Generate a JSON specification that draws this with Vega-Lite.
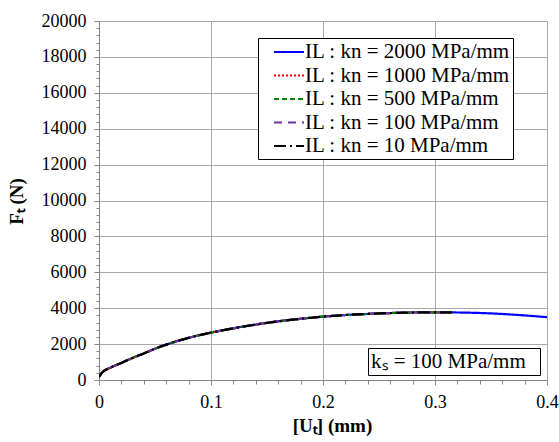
{
  "$schema": "https://vega.github.io/schema/vega-lite/v6.json",
  "width": 448,
  "height": 359,
  "autosize": "none",
  "padding": {"left": 99, "top": 21, "right": 12, "bottom": 62},
  "background": "white",
  "config": {
    "view": {"stroke": null},
    "axis": {
      "labelFont": "Liberation Serif",
      "labelFontSize": 18,
      "labelColor": "black",
      "titleFont": "Liberation Serif",
      "titleFontSize": 19,
      "titleFontWeight": "bold",
      "titleColor": "black",
      "domainColor": "#868686",
      "tickColor": "#868686",
      "gridColor": "#a8a8a8",
      "gridWidth": 1,
      "domainWidth": 1,
      "tickWidth": 1
    }
  },
  "data": {
    "values": [
      {"series": "IL : kn = 2000 MPa/mm", "x": 0, "y": 180},
      {"series": "IL : kn = 2000 MPa/mm", "x": 0.003, "y": 430},
      {"series": "IL : kn = 2000 MPa/mm", "x": 0.01, "y": 680},
      {"series": "IL : kn = 2000 MPa/mm", "x": 0.02, "y": 950},
      {"series": "IL : kn = 2000 MPa/mm", "x": 0.03, "y": 1230},
      {"series": "IL : kn = 2000 MPa/mm", "x": 0.04, "y": 1480},
      {"series": "IL : kn = 2000 MPa/mm", "x": 0.05, "y": 1740},
      {"series": "IL : kn = 2000 MPa/mm", "x": 0.06, "y": 1970},
      {"series": "IL : kn = 2000 MPa/mm", "x": 0.08, "y": 2350},
      {"series": "IL : kn = 2000 MPa/mm", "x": 0.1, "y": 2640},
      {"series": "IL : kn = 2000 MPa/mm", "x": 0.12, "y": 2880},
      {"series": "IL : kn = 2000 MPa/mm", "x": 0.14, "y": 3090},
      {"series": "IL : kn = 2000 MPa/mm", "x": 0.16, "y": 3270},
      {"series": "IL : kn = 2000 MPa/mm", "x": 0.18, "y": 3410},
      {"series": "IL : kn = 2000 MPa/mm", "x": 0.2, "y": 3530},
      {"series": "IL : kn = 2000 MPa/mm", "x": 0.22, "y": 3620},
      {"series": "IL : kn = 2000 MPa/mm", "x": 0.24, "y": 3680},
      {"series": "IL : kn = 2000 MPa/mm", "x": 0.26, "y": 3730},
      {"series": "IL : kn = 2000 MPa/mm", "x": 0.28, "y": 3760},
      {"series": "IL : kn = 2000 MPa/mm", "x": 0.3, "y": 3770},
      {"series": "IL : kn = 2000 MPa/mm", "x": 0.315, "y": 3765},
      {"series": "IL : kn = 2000 MPa/mm", "x": 0.33, "y": 3750},
      {"series": "IL : kn = 2000 MPa/mm", "x": 0.35, "y": 3710},
      {"series": "IL : kn = 2000 MPa/mm", "x": 0.375, "y": 3620},
      {"series": "IL : kn = 2000 MPa/mm", "x": 0.4, "y": 3500},

      {"series": "IL : kn = 1000 MPa/mm", "x": 0, "y": 180},
      {"series": "IL : kn = 1000 MPa/mm", "x": 0.003, "y": 430},
      {"series": "IL : kn = 1000 MPa/mm", "x": 0.01, "y": 680},
      {"series": "IL : kn = 1000 MPa/mm", "x": 0.02, "y": 950},
      {"series": "IL : kn = 1000 MPa/mm", "x": 0.03, "y": 1230},
      {"series": "IL : kn = 1000 MPa/mm", "x": 0.04, "y": 1480},
      {"series": "IL : kn = 1000 MPa/mm", "x": 0.05, "y": 1740},
      {"series": "IL : kn = 1000 MPa/mm", "x": 0.06, "y": 1970},
      {"series": "IL : kn = 1000 MPa/mm", "x": 0.08, "y": 2350},
      {"series": "IL : kn = 1000 MPa/mm", "x": 0.1, "y": 2640},
      {"series": "IL : kn = 1000 MPa/mm", "x": 0.12, "y": 2880},
      {"series": "IL : kn = 1000 MPa/mm", "x": 0.14, "y": 3090},
      {"series": "IL : kn = 1000 MPa/mm", "x": 0.16, "y": 3270},
      {"series": "IL : kn = 1000 MPa/mm", "x": 0.18, "y": 3410},
      {"series": "IL : kn = 1000 MPa/mm", "x": 0.2, "y": 3530},
      {"series": "IL : kn = 1000 MPa/mm", "x": 0.22, "y": 3620},
      {"series": "IL : kn = 1000 MPa/mm", "x": 0.24, "y": 3680},
      {"series": "IL : kn = 1000 MPa/mm", "x": 0.26, "y": 3730},
      {"series": "IL : kn = 1000 MPa/mm", "x": 0.28, "y": 3760},
      {"series": "IL : kn = 1000 MPa/mm", "x": 0.3, "y": 3770},
      {"series": "IL : kn = 1000 MPa/mm", "x": 0.315, "y": 3765},

      {"series": "IL : kn = 500 MPa/mm", "x": 0, "y": 180},
      {"series": "IL : kn = 500 MPa/mm", "x": 0.003, "y": 430},
      {"series": "IL : kn = 500 MPa/mm", "x": 0.01, "y": 680},
      {"series": "IL : kn = 500 MPa/mm", "x": 0.02, "y": 950},
      {"series": "IL : kn = 500 MPa/mm", "x": 0.03, "y": 1230},
      {"series": "IL : kn = 500 MPa/mm", "x": 0.04, "y": 1480},
      {"series": "IL : kn = 500 MPa/mm", "x": 0.05, "y": 1740},
      {"series": "IL : kn = 500 MPa/mm", "x": 0.06, "y": 1970},
      {"series": "IL : kn = 500 MPa/mm", "x": 0.08, "y": 2350},
      {"series": "IL : kn = 500 MPa/mm", "x": 0.1, "y": 2640},
      {"series": "IL : kn = 500 MPa/mm", "x": 0.12, "y": 2880},
      {"series": "IL : kn = 500 MPa/mm", "x": 0.14, "y": 3090},
      {"series": "IL : kn = 500 MPa/mm", "x": 0.16, "y": 3270},
      {"series": "IL : kn = 500 MPa/mm", "x": 0.18, "y": 3410},
      {"series": "IL : kn = 500 MPa/mm", "x": 0.2, "y": 3530},
      {"series": "IL : kn = 500 MPa/mm", "x": 0.22, "y": 3620},
      {"series": "IL : kn = 500 MPa/mm", "x": 0.24, "y": 3680},
      {"series": "IL : kn = 500 MPa/mm", "x": 0.26, "y": 3730},
      {"series": "IL : kn = 500 MPa/mm", "x": 0.28, "y": 3760},
      {"series": "IL : kn = 500 MPa/mm", "x": 0.3, "y": 3770},
      {"series": "IL : kn = 500 MPa/mm", "x": 0.315, "y": 3765},

      {"series": "IL : kn = 100 MPa/mm", "x": 0, "y": 180},
      {"series": "IL : kn = 100 MPa/mm", "x": 0.003, "y": 430},
      {"series": "IL : kn = 100 MPa/mm", "x": 0.01, "y": 680},
      {"series": "IL : kn = 100 MPa/mm", "x": 0.02, "y": 950},
      {"series": "IL : kn = 100 MPa/mm", "x": 0.03, "y": 1230},
      {"series": "IL : kn = 100 MPa/mm", "x": 0.04, "y": 1480},
      {"series": "IL : kn = 100 MPa/mm", "x": 0.05, "y": 1740},
      {"series": "IL : kn = 100 MPa/mm", "x": 0.06, "y": 1970},
      {"series": "IL : kn = 100 MPa/mm", "x": 0.08, "y": 2350},
      {"series": "IL : kn = 100 MPa/mm", "x": 0.1, "y": 2640},
      {"series": "IL : kn = 100 MPa/mm", "x": 0.12, "y": 2880},
      {"series": "IL : kn = 100 MPa/mm", "x": 0.14, "y": 3090},
      {"series": "IL : kn = 100 MPa/mm", "x": 0.16, "y": 3270},
      {"series": "IL : kn = 100 MPa/mm", "x": 0.18, "y": 3410},
      {"series": "IL : kn = 100 MPa/mm", "x": 0.2, "y": 3530},
      {"series": "IL : kn = 100 MPa/mm", "x": 0.22, "y": 3620},
      {"series": "IL : kn = 100 MPa/mm", "x": 0.24, "y": 3680},
      {"series": "IL : kn = 100 MPa/mm", "x": 0.26, "y": 3730},
      {"series": "IL : kn = 100 MPa/mm", "x": 0.28, "y": 3760},
      {"series": "IL : kn = 100 MPa/mm", "x": 0.3, "y": 3770},
      {"series": "IL : kn = 100 MPa/mm", "x": 0.315, "y": 3765},

      {"series": "IL : kn = 10 MPa/mm", "x": 0, "y": 180},
      {"series": "IL : kn = 10 MPa/mm", "x": 0.003, "y": 430},
      {"series": "IL : kn = 10 MPa/mm", "x": 0.01, "y": 680},
      {"series": "IL : kn = 10 MPa/mm", "x": 0.02, "y": 950},
      {"series": "IL : kn = 10 MPa/mm", "x": 0.03, "y": 1230},
      {"series": "IL : kn = 10 MPa/mm", "x": 0.04, "y": 1480},
      {"series": "IL : kn = 10 MPa/mm", "x": 0.05, "y": 1740},
      {"series": "IL : kn = 10 MPa/mm", "x": 0.06, "y": 1970},
      {"series": "IL : kn = 10 MPa/mm", "x": 0.08, "y": 2350},
      {"series": "IL : kn = 10 MPa/mm", "x": 0.1, "y": 2640},
      {"series": "IL : kn = 10 MPa/mm", "x": 0.12, "y": 2880},
      {"series": "IL : kn = 10 MPa/mm", "x": 0.14, "y": 3090},
      {"series": "IL : kn = 10 MPa/mm", "x": 0.16, "y": 3270},
      {"series": "IL : kn = 10 MPa/mm", "x": 0.18, "y": 3410},
      {"series": "IL : kn = 10 MPa/mm", "x": 0.2, "y": 3530},
      {"series": "IL : kn = 10 MPa/mm", "x": 0.22, "y": 3620},
      {"series": "IL : kn = 10 MPa/mm", "x": 0.24, "y": 3680},
      {"series": "IL : kn = 10 MPa/mm", "x": 0.26, "y": 3730},
      {"series": "IL : kn = 10 MPa/mm", "x": 0.28, "y": 3760},
      {"series": "IL : kn = 10 MPa/mm", "x": 0.3, "y": 3770},
      {"series": "IL : kn = 10 MPa/mm", "x": 0.315, "y": 3765}
    ]
  },
  "mark": {"type": "line", "strokeWidth": 2.2, "clip": true, "interpolate": "monotone"},
  "encoding": {
    "x": {
      "field": "x",
      "type": "quantitative",
      "scale": {"domain": [0, 0.4], "nice": false, "zero": false},
      "axis": {
        "title": "[Uₜ] (mm)",
        "values": [0, 0.02, 0.04, 0.06, 0.08, 0.1, 0.12, 0.14, 0.16, 0.18, 0.2, 0.22, 0.24, 0.26, 0.28, 0.3, 0.32, 0.34, 0.36, 0.38, 0.4],
        "format": ".1~f",
        "labelExpr": "abs(datum.value*10 - round(datum.value*10)) < 0.000001 ? datum.label : ''",
        "tickSize": {"condition": {"test": "abs(datum.value*10 - round(datum.value*10)) < 0.000001", "value": 5}, "value": 4},
        "gridOpacity": {"condition": {"test": "abs(datum.value*10 - round(datum.value*10)) < 0.000001", "value": 1}, "value": 0},
        "grid": true,
        "labelPadding": 8,
        "labelFlush": false,
        "labelOverlap": false,
        "titleX": 233,
        "titleY": 45,
        "titleBaseline": "middle",
        "titleAlign": "center"
      }
    },
    "y": {
      "field": "y",
      "type": "quantitative",
      "scale": {"domain": [0, 20000], "nice": false},
      "axis": {
        "title": "Fₜ (N)",
        "values": [0, 400, 800, 1200, 1600, 2000, 2400, 2800, 3200, 3600, 4000, 4400, 4800, 5200, 5600, 6000, 6400, 6800, 7200, 7600, 8000, 8400, 8800, 9200, 9600, 10000, 10400, 10800, 11200, 11600, 12000, 12400, 12800, 13200, 13600, 14000, 14400, 14800, 15200, 15600, 16000, 16400, 16800, 17200, 17600, 18000, 18400, 18800, 19200, 19600, 20000],
        "format": "d",
        "labelExpr": "datum.value % 2000 === 0 ? datum.label : ''",
        "tickSize": {"condition": {"test": "datum.value % 2000 === 0", "value": 5}, "value": 3},
        "gridOpacity": {"condition": {"test": "datum.value % 2000 === 0", "value": 1}, "value": 0},
        "grid": true,
        "labelPadding": 8,
        "labelOverlap": false,
        "titleX": -83,
        "titleY": 180,
        "titleAngle": -90,
        "titleBaseline": "middle",
        "titleAlign": "center"
      }
    },
    "color": {
      "field": "series",
      "type": "nominal",
      "scale": {
        "domain": ["IL : kn = 2000 MPa/mm", "IL : kn = 1000 MPa/mm", "IL : kn = 500 MPa/mm", "IL : kn = 100 MPa/mm", "IL : kn = 10 MPa/mm"],
        "range": ["#0000ff", "#ff0000", "#008000", "#7030a0", "#000000"]
      },
      "legend": {
        "title": null,
        "orient": "none",
        "legendX": 159,
        "legendY": 17,
        "padding": 3,
        "strokeColor": "black",
        "fillColor": "white",
        "symbolType": "M-1.5,0H1.5",
        "symbolSize": 400,
        "symbolStrokeWidth": 2,
        "symbolOffset": 17,
        "labelOffset": 5,
        "labelFont": "Liberation Serif",
        "labelFontSize": 21,
        "labelColor": "black",
        "labelLimit": 400,
        "rowPadding": 2.5,
        "labelExpr": "datum.label + '\u00a0\u00a0\u00a0'"
      }
    },
    "strokeDash": {
      "field": "series",
      "type": "nominal",
      "scale": {
        "domain": ["IL : kn = 2000 MPa/mm", "IL : kn = 1000 MPa/mm", "IL : kn = 500 MPa/mm", "IL : kn = 100 MPa/mm", "IL : kn = 10 MPa/mm"],
        "range": [[1, 0], [2, 2], [5, 3], [8, 6], [12, 4, 2, 4]]
      }
    },
    "opacity": {
      "datum": "kₛ = 100 MPa/mm",
      "type": "nominal",
      "scale": {"range": [1, 1]},
      "legend": {
        "title": null,
        "orient": "none",
        "legendX": 269,
        "legendY": 327,
        "padding": 3,
        "strokeColor": "black",
        "fillColor": "white",
        "symbolSize": 0,
        "symbolOpacity": 0,
        "symbolStrokeWidth": 0,
        "labelOffset": -21,
        "labelFont": "Liberation Serif",
        "labelFontSize": 21,
        "labelColor": "black",
        "labelLimit": 400,
        "labelExpr": "datum.label + '\u00a0\u00a0\u200b'"
      }
    }
  }
}
